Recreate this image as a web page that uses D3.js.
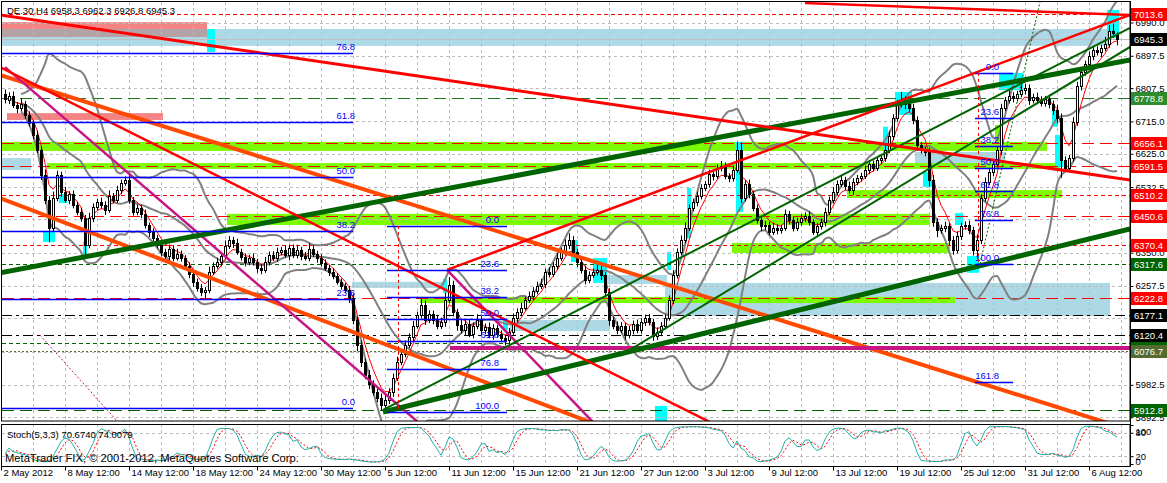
<!DOCTYPE html>
<html><head><meta charset="utf-8">
<script src="https://cdn.jsdelivr.net/npm/d3@7"></script>
<style>body{margin:0;background:#fff}svg{display:block}text{font-family:"Liberation Sans",Arial,sans-serif}</style>
</head><body><svg id="c" width="1167" height="483"></svg>
<script>
// ---------------- DATA ----------------
const firstOpen = 6790;
const closes = [6775,6786,6761,6752,6763,6733,6711,6677,6636,6566,
6497,6419,6502,6566,6519,6497,6513,6483,6463,6447,
6372,6447,6477,6491,6483,6469,6508,6497,6525,6544,
6552,6497,6463,6474,6458,6427,6408,6391,6372,6352,
6341,6361,6336,6347,6336,6313,6291,6269,6252,6241,
6247,6297,6313,6324,6341,6369,6386,6377,6352,6338,
6324,6336,6324,6308,6302,6324,6344,6336,6352,6358,
6344,6363,6344,6358,6341,6336,6361,6347,6336,6322,
6308,6297,6286,6269,6258,6247,6224,6163,6094,6047,
6010,5985,5963,5946,5927,5941,5963,6002,6047,6069,
6094,6116,6147,6177,6205,6163,6180,6163,6147,6158,
6219,6260,6185,6149,6135,6152,6124,6147,6163,6135,
6144,6122,6141,6124,6113,6108,6130,6169,6185,6197,
6219,6230,6244,6258,6263,6297,6291,6313,6336,6352,
6372,6386,6352,6324,6302,6274,6288,6297,6302,6288,
6241,6163,6147,6135,6147,6122,6135,6152,6135,6158,
6169,6158,6119,6130,6147,6169,6219,6288,6352,6386,
6419,6474,6491,6508,6530,6541,6569,6563,6586,6591,
6563,6558,6580,6636,6502,6541,6513,6474,6441,6424,
6427,6408,6419,6413,6419,6458,6441,6419,6435,6447,
6452,6435,6408,6424,6435,6463,6497,6519,6541,6552,
6536,6525,6547,6558,6563,6580,6597,6586,6608,6613,
6636,6675,6725,6763,6775,6763,6752,6719,6650,6636,
6630,6552,6436,6413,6419,6424,6386,6358,6397,6424,
6427,6413,6358,6386,6502,6547,6575,6597,6636,6752,
6775,6786,6780,6791,6802,6808,6775,6783,6775,6766,
6777,6763,6747,6725,6608,6586,6613,6713,6813,6852,
6875,6897,6914,6908,6919,6930,6965,6958.3,6945.3];
const upWick = [14,10,12,8,16,9,10,7,12,9,15,10,18,12,9,14,8,10,9,12,
8,14,10,9,12,10,15,8,11,9,10,16,8,10,9,12,7,10,8,11,
9,12,8,14,9,7,10,8,9,11,8,14,10,12,9,15,10,8,12,9,
10,8,12,9,11,14,9,10,12,8,13,9,10,14,8,11,15,9,8,10,
9,8,10,7,9,8,10,12,9,11,8,14,10,9,12,15,10,12,14,9,
12,10,13,9,16,12,10,9,14,11,20,22,12,9,14,10,12,9,16,10,
9,12,10,8,10,9,11,12,10,14,9,12,10,11,14,9,12,10,13,12,
15,18,10,9,8,12,10,9,14,12,8,10,9,12,10,8,11,9,12,10,
9,10,8,12,10,9,12,14,10,12,15,10,9,12,10,8,12,10,9,14,
10,8,12,22,20,10,12,9,10,8,11,9,14,10,9,12,8,10,12,9,
10,12,8,9,10,12,9,14,10,11,9,12,10,8,9,12,10,9,11,10,
12,14,10,12,22,10,9,12,10,8,9,12,14,10,9,12,8,10,12,9,
10,12,9,14,10,12,9,14,10,12,8,15,10,9,14,12,10,9,12,10,
9,12,10,14,12,10,9,14,12,10,9,12,8,10,9,20,18,22,4];
const downWick = [10,12,9,14,8,11,10,12,9,14,12,40,10,9,14,8,12,10,9,11,
30,10,12,9,10,14,8,10,9,12,8,11,10,9,12,10,14,9,10,12,
9,12,10,8,11,9,12,14,10,12,22,10,9,8,12,10,9,14,8,10,
12,9,10,14,12,8,10,9,12,10,8,14,9,10,12,8,10,9,14,10,
9,12,10,8,11,9,14,12,18,15,12,14,10,12,15,10,12,14,9,10,
10,9,12,8,10,14,9,12,10,9,14,10,12,16,10,14,9,12,10,15,
12,10,14,9,12,16,10,9,12,10,8,9,12,10,9,12,10,8,11,9,
10,12,9,14,10,12,9,8,10,14,12,16,10,12,9,14,10,12,9,10,
12,10,14,12,9,10,8,12,10,9,10,8,9,12,10,9,10,12,8,10,
9,12,10,8,14,10,12,9,10,14,12,10,9,12,10,8,12,10,9,10,
12,10,9,14,10,12,9,10,8,9,12,10,14,9,10,8,12,10,9,12,
10,9,12,10,9,14,10,12,16,10,12,18,14,20,10,12,16,14,10,12,
10,12,16,24,12,10,9,12,10,14,9,10,12,10,9,12,14,10,12,9,
10,12,14,16,50,12,10,9,10,12,10,9,12,10,14,9,10,12,18.5];

const dateLabels = ["2 May 2012","8 May 12:00","14 May 12:00","18 May 12:00","24 May 12:00","30 May 12:00","5 Jun 12:00","11 Jun 12:00","15 Jun 12:00","21 Jun 12:00","27 Jun 12:00","3 Jul 12:00","9 Jul 12:00","13 Jul 12:00","19 Jul 12:00","25 Jul 12:00","31 Jul 12:00","6 Aug 12:00"];
const dateLabelBars = [-1,15,31,47,63,79,95,111,127,143,159,175,191,207,223,239,255,271];
const priceTicks = [6990.0,6897.5,6807.5,6715.0,6625.0,6532.5,6442.5,6350.0,6257.5,6167.5,6075.0,5982.5,5892.5];
const stochTicks = [100,80,20,0];

const levelPrices = [7013.6,6778.8,6656.1,6591.5,6510.2,6450.6,6370.4,6317.6,6222.8,6177.1,6120.4,6099.3,6076.7,5912.8];
const bidPrice = 6945.3;

// zones: [barFrom, barTo, priceTop, priceBottom]
const zonesLightBlue = [[-1.25,276.25,6972,6925],[-1.25,6.5,6613,6580],[86.75,110,6269,6252],[126.25,151.25,6163,6132],[150.5,165.5,6288,6263],[165,276.25,6266,6174],[227.5,250,6630,6586]];
const zonesCoral = [[-1.25,50.5,6991,6950],[0.5,39.5,6738,6719]];
const zonesLime = [[-1.25,260.5,6658,6633],[10.5,263.75,6599,6583],[210.5,264.25,6524,6502],[55.5,231.25,6458,6427],[181.75,236.25,6377,6349],[103.75,237.5,6227,6210],[247.5,249.25,6705,6655]];
const zonesCyan = [[50.5,52.5,6972,6908],[9.5,12.5,6408,6380],[13.5,15.5,6513,6488],[19.5,20.5,6380,6338],[109.5,110.5,6277,6238],[124.5,125.75,6163,6135],[141.5,143.25,6385,6324],[147,150.5,6335,6266],[162.5,165.5,5924,5875],[165.5,166.5,6352,6302],[170.5,171.5,6530,6391],[182.75,184.5,6658,6463],[219.5,220.75,6700,6616],[222.5,226.75,6797,6733],[229.5,231.75,6574,6533],[237.5,239.5,6460,6427],[240.5,243.5,6341,6294],[248.5,254.5,6850,6802],[261.75,263.25,6747,6700],[262.5,264.5,6677,6588],[275.5,278.5,7025,6947]];

// trend lines: [bar1, price1, bar2, price2]
const redTrend = [[-1.25,7011,281.25,6552],[200,7044,281.25,7011],[110.5,6302,281.25,7011],[-1.25,6866,176.25,5879]];
const orangeTrend = [[-1.25,6844,281.25,5857],[-1.25,6502,146.25,5879]];
const magentaTrend = [[0,6866,103.25,5879],[110.5,6302,147,5879]];
const magentaLevel = [[111.25,6085,281.25,6085]];
const magentaDotted = [[8.75,6121,28.25,5879]];
const greenThick = [[-1.25,6294,281.25,6886],[94.5,5907,281.25,6416]];
const greenThin = [[94.5,5913,281.25,6975],[153.75,6063,281.25,6922]];
const greenDotted = [[243.75,6319,258.75,7047]];

// fibonacci: [price at 0, price at 100, barFrom, barTo]
const fibLevels = [0,23.6,38.2,50,61.8,76.8,100,161.8];
const fibAnchors = [[5918.7,7202.6,-1.25,87],[6424.3,5907.2,95.5,125.5],[6849.6,6318.6,242.5,252]];
const fibLabelBars = [87.5,123.5,248.5];
const fibVerticals = [[98.25,6424.3,5907.2],[243.25,6849.6,6318.6]];

const titleText = "DE.30,H4  6958.3 6962.3 6926.8 6945.3";
const stochText = "Stoch(5,3,3) 70.6740 74.0079";
const copyText = "MetaTrader FIX, \u00A9 2001-2012, MetaQuotes Software Corp.";

// ---------------- BUILD ----------------
const bars = closes.map((c,i)=>{
  const o = i===0 ? firstOpen : closes[i-1];
  return {i, o, c, h: Math.max(o,c)+upWick[i], l: Math.min(o,c)-downWick[i]};
});

const R = 1130, TOP = 2, MB = 421, ST = 424, SB = 466;
const x = d3.scaleLinear().domain([0,278]).range([5,1117]);
const y = d3.scaleLinear().domain([5882,7047]).range([MB,TOP]);
const ys = d3.scaleLinear().domain([0,100]).range([464,425]);
const F = "'Liberation Sans',Arial,sans-serif";
const FS = 9.5;

const svg = d3.select("#c");
svg.append("rect").attr("width",1167).attr("height",483).attr("fill","#fff");
const defs = svg.append("defs");
defs.append("clipPath").attr("id","mc").append("rect").attr("x",2).attr("y",TOP).attr("width",R-2).attr("height",MB-TOP);
defs.append("clipPath").attr("id","sc").append("rect").attr("x",2).attr("y",ST+1).attr("width",R-2).attr("height",SB-ST-1);
const g = svg.append("g").attr("clip-path","url(#mc)");

function zones(data, fill, op){
  g.append("g").selectAll("rect").data(data).join("rect")
   .attr("x",d=>x(d[0])).attr("width",d=>x(d[1])-x(d[0]))
   .attr("y",d=>y(d[2])).attr("height",d=>y(d[3])-y(d[2]))
   .attr("fill",fill).attr("fill-opacity",op);
}
zones(zonesLightBlue,"#ADD8E6",1);
zones(zonesCoral,"#F48484",1);
const overl=[];
zonesCoral.forEach(a=>zonesLightBlue.forEach(b=>{
  const b0=Math.max(a[0],b[0]), b1=Math.min(a[1],b[1]);
  const p0=Math.min(a[2],b[2]), p1=Math.max(a[3],b[3]);
  if(b1>b0 && p0>p1) overl.push([b0,b1,p0,p1]);
}));
zones(overl,"#B4A3A6",1);
zones(zonesLime,"#7CFC00",1);
zones(zonesCyan,"#00FFFF",1);

// grid
const gridBars = d3.range(7,282,8);
g.append("g").selectAll("line").data(gridBars).join("line")
 .attr("x1",d=>Math.round(x(d))+0.5).attr("x2",d=>Math.round(x(d))+0.5).attr("y1",TOP).attr("y2",MB)
 .attr("stroke","#bdbdbd").attr("stroke-dasharray","3,3");
g.append("g").selectAll("line").data(priceTicks).join("line")
 .attr("x1",2).attr("x2",R).attr("y1",d=>Math.round(y(d))+0.5).attr("y2",d=>Math.round(y(d))+0.5)
 .attr("stroke","#bdbdbd").attr("stroke-dasharray","3,3");

// horizontal levels
const lvStyle = [["#f00","4,3"],["#1f7a1f","12,6"],["#f00","12,6"],["#f00","12,6"],["#f00","4,3"],["#f00","12,6"],["#f00","4,3"],["#006400","4,3"],["#f00","12,6"],["#000","10,4,3,4"],["#000","10,4,3,4"],["#006400","4,3"],["#556B2F","2,2"],["#006400","12,6"]];
g.append("g").selectAll("line").data(levelPrices).join("line")
 .attr("x1",2).attr("x2",R).attr("y1",d=>Math.round(y(d))+0.5).attr("y2",d=>Math.round(y(d))+0.5)
 .attr("stroke",(d,i)=>lvStyle[i][0]).attr("stroke-dasharray",(d,i)=>lvStyle[i][1]);
g.append("line").attr("x1",2).attr("x2",R).attr("y1",Math.round(y(bidPrice))+0.5).attr("y2",Math.round(y(bidPrice))+0.5).attr("stroke","#c0c0c0");

// indicators: Bollinger (20,2) and EMA(5)
const N=20, band=[];
bars.forEach((b,i)=>{
  if(i<4) return;
  const w = closes.slice(Math.max(0,i-N+1), i+1);
  const m = d3.mean(w), sd = Math.sqrt(d3.mean(w.map(v=>(v-m)*(v-m))));
  band.push({i, m, u:m+2*sd, d:m-2*sd});
});
const bl = k => d3.line().x(d=>x(d.i)).y(d=>y(d[k])).curve(d3.curveMonotoneX);
["u","m","d"].forEach(k=>g.append("path").datum(band).attr("d",bl(k)).attr("fill","none").attr("stroke","#808080").attr("stroke-width",2));
let e=closes[0]; const ema=closes.map(c=>(e=e+(c-e)/3));
g.append("path").datum(ema).attr("d",d3.line().x((d,i)=>x(i)).y(d=>y(d))).attr("fill","none").attr("stroke","#f00").attr("stroke-width",1);

// candles
const cg = g.append("g");
cg.selectAll("line").data(bars).join("line")
 .attr("x1",d=>Math.round(x(d.i))+0.5).attr("x2",d=>Math.round(x(d.i))+0.5)
 .attr("y1",d=>y(d.h)).attr("y2",d=>y(d.l)).attr("stroke","#000");
cg.selectAll("rect").data(bars).join("rect")
 .attr("x",d=>Math.round(x(d.i))-0.5).attr("width",2)
 .attr("y",d=>Math.round(y(Math.max(d.o,d.c)))+0.5)
 .attr("height",d=>Math.max(1,Math.round(Math.abs(y(d.o)-y(d.c)))))
 .attr("fill",d=>d.c>=d.o?"#fff":"#000").attr("stroke","#000");

// trend lines
function tl(data,color,w,dash){
  g.append("g").selectAll("line").data(data).join("line")
   .attr("x1",d=>x(d[0])).attr("y1",d=>y(d[1])).attr("x2",d=>x(d[2])).attr("y2",d=>y(d[3]))
   .attr("stroke",color).attr("stroke-width",w).attr("stroke-dasharray",dash||null);
}
tl(orangeTrend,"#FF4A00",4);
tl(magentaTrend,"#C71585",2.5);
tl(magentaLevel,"#C71585",4);
tl(magentaDotted,"#C71585",1,"2,2");
tl(greenThin,"#006400",2);
tl(greenThick,"#006400",5);
tl(redTrend.slice(0,1),"#f00",3);
tl(redTrend.slice(1),"#f00",2.5);
tl(greenDotted,"#006400",1,"2,2");

// fibonacci
const [pLo,pHi]=y.domain();
fibAnchors.forEach((a,k)=>{
  const fg=g.append("g");
  const lv=fibLevels.map(L=>({L,p:a[0]+(a[1]-a[0])*L/100})).filter(d=>d.p>pLo && d.p<pHi);
  fg.selectAll("line").data(lv).join("line")
   .attr("x1",x(a[2])).attr("x2",x(a[3])).attr("y1",d=>Math.round(y(d.p))+0.5).attr("y2",d=>Math.round(y(d.p))+0.5)
   .attr("stroke","#0000ff").attr("stroke-width",1.5);
  fg.selectAll("text").data(lv).join("text")
   .attr("x",x(fibLabelBars[k])).attr("y",d=>y(d.p)-3).attr("text-anchor","end")
   .attr("font-size",FS).attr("font-family",F).attr("fill","#0000ff").text(d=>d.L.toFixed(1));
});
g.append("g").selectAll("line").data(fibVerticals).join("line")
 .attr("x1",d=>Math.round(x(d[0]))+0.5).attr("x2",d=>Math.round(x(d[0]))+0.5).attr("y1",d=>y(d[1])).attr("y2",d=>y(d[2]))
 .attr("stroke","#f00").attr("stroke-dasharray","3,3");

// ---------------- STOCHASTIC ----------------
const raw=[];
bars.forEach((b,i)=>{
  const w=bars.slice(Math.max(0,i-4),i+1);
  raw.push({hh:d3.max(w,d=>d.h), ll:d3.min(w,d=>d.l), c:b.c});
});
const K=raw.map((r,i)=>{
  const w=raw.slice(Math.max(0,i-2),i+1);
  const num=d3.sum(w,d=>d.c-d.ll), den=d3.sum(w,d=>d.hh-d.ll);
  return den?100*num/den:50;
});
const D=K.map((v,i)=>d3.mean(K.slice(Math.max(0,i-2),i+1)));
const sg=svg.append("g").attr("clip-path","url(#sc)");
sg.selectAll("line.v").data(gridBars).join("line")
 .attr("x1",d=>Math.round(x(d))+0.5).attr("x2",d=>Math.round(x(d))+0.5).attr("y1",ST).attr("y2",SB)
 .attr("stroke","#bdbdbd").attr("stroke-dasharray","3,3");
[80,20].forEach(v=>sg.append("line").attr("x1",2).attr("x2",R).attr("y1",Math.round(ys(v))+0.5).attr("y2",Math.round(ys(v))+0.5).attr("stroke","#bdbdbd").attr("stroke-dasharray","3,3"));
sg.append("path").datum(D).attr("d",d3.line().x((d,i)=>x(i)).y(d=>ys(d))).attr("fill","none").attr("stroke","#f00").attr("stroke-dasharray","2,2");
sg.append("path").datum(K).attr("d",d3.line().x((d,i)=>x(i)).y(d=>ys(d))).attr("fill","none").attr("stroke","#20B2AA");

// ---------------- FRAMES & AXES ----------------
svg.append("rect").attr("x",1.5).attr("y",1.5).attr("width",R-1.5).attr("height",MB-1.5).attr("fill","none").attr("stroke","#000");
svg.append("rect").attr("x",1.5).attr("y",ST+0.5).attr("width",R-1.5).attr("height",SB-ST).attr("fill","none").attr("stroke","#000");

// price tick labels not covered by level boxes
const boxYs = levelPrices.concat([bidPrice]).map(p=>y(p));
const visTicks = priceTicks.filter(t=>boxYs.every(b=>Math.abs(b-y(t))>7));
const ay = svg.append("g").attr("transform",`translate(${R+0.5},0)`)
  .call(d3.axisRight(y).tickValues(priceTicks).tickFormat(d=>visTicks.includes(d)?d3.format(".1f")(d):"").tickSize(3).tickPadding(2));
ay.select(".domain").remove();
ay.attr("font-family",F).attr("font-size",FS);
ay.selectAll("text").attr("fill","#000");

const as = svg.append("g").attr("transform",`translate(${R+0.5},0)`)
  .call(d3.axisRight(ys).tickValues(stochTicks).tickFormat(d3.format("d")).tickSize(3).tickPadding(2));
as.select(".domain").remove();
as.attr("font-family",F).attr("font-size",FS);
as.selectAll("text").attr("y",d=> d===100?6:(d===0?-3:0));

// level labels
const boxFill = ["#f00","#2E8B2E","#f00","#f00","#f00","#f00","#f00","#006400","#f00","#000","#000","#006400","#556B2F","#006400"];
const order = d3.range(levelPrices.length).sort((a,b)=>(a===11?-1:b===11?1:0));
const lb = svg.append("g");
order.forEach(i=>{
  const yy=Math.round(y(levelPrices[i]));
  lb.append("rect").attr("x",R+1).attr("y",yy-6).attr("width",36).attr("height",13).attr("fill",boxFill[i]);
  if(i!==11) lb.append("text").attr("x",R+4).attr("y",yy+4).attr("fill","#fff").attr("font-size",FS).attr("font-family",F).text(levelPrices[i].toFixed(1));
});
{
  const yy=Math.round(y(bidPrice));
  lb.append("rect").attr("x",R+1).attr("y",yy-6).attr("width",36).attr("height",13).attr("fill","#000");
  lb.append("text").attr("x",R+4).attr("y",yy+4).attr("fill","#fff").attr("font-size",FS).attr("font-family",F).text(bidPrice.toFixed(1));
}
svg.append("line").attr("x1",R+0.5).attr("x2",R+0.5).attr("y1",1).attr("y2",SB+0.5).attr("stroke","#000");

const ax = svg.append("g").attr("transform",`translate(0,${SB+0.5})`)
  .call(d3.axisBottom(x).tickValues(dateLabelBars).tickFormat((d,i)=>dateLabels[i]).tickSize(4).tickPadding(1));
ax.select(".domain").remove();
ax.attr("font-family",F).attr("font-size",FS);
ax.selectAll("text").attr("text-anchor","start").attr("x",2).attr("y",3).attr("dy","0.71em");

svg.append("text").attr("x",7).attr("y",14).attr("font-size",FS).attr("font-family",F).text(titleText);
svg.append("text").attr("x",7).attr("y",438).attr("font-size",FS).attr("font-family",F).text(stochText);
svg.append("text").attr("x",5).attr("y",462).attr("font-size",11.2).attr("font-family",F).text(copyText);
</script></body></html>
